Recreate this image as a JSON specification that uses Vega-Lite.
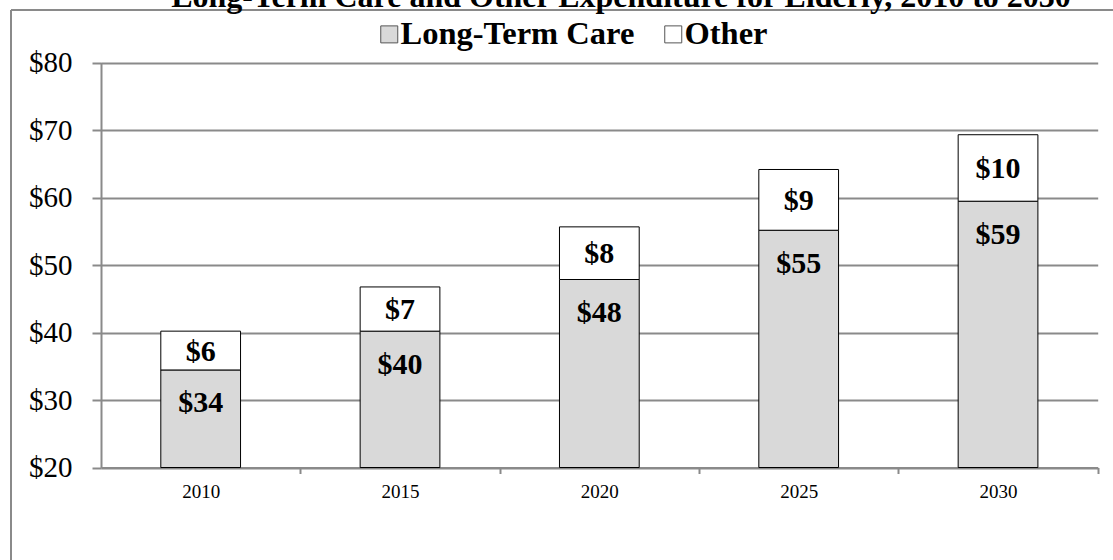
{
  "$schema": "https://vega.github.io/schema/vega-lite/v6.json",
  "autosize": {"type": "none"},
  "padding": {"left": 11, "top": 10, "right": 0, "bottom": 0},
  "width": 1102,
  "height": 550,
  "background": "white",
  "title": {
    "text": "Long-Term Care and Other Expenditure for Elderly, 2010 to 2030",
    "anchor": "middle",
    "frame": "group",
    "font": "Liberation Serif",
    "fontSize": 32,
    "fontWeight": "bold",
    "color": "black",
    "baseline": "alphabetic",
    "offset": 0,
    "dy": 29,
    "dx": 59
  },
  "data": {
    "values": [
      {"year": "2010", "series": "Long-Term Care", "value": 34.45},
      {"year": "2010", "series": "Other", "value": 5.75},
      {"year": "2015", "series": "Long-Term Care", "value": 40.2},
      {"year": "2015", "series": "Other", "value": 6.55},
      {"year": "2020", "series": "Long-Term Care", "value": 47.85},
      {"year": "2020", "series": "Other", "value": 7.8},
      {"year": "2025", "series": "Long-Term Care", "value": 55.15},
      {"year": "2025", "series": "Other", "value": 9.0},
      {"year": "2030", "series": "Long-Term Care", "value": 59.45},
      {"year": "2030", "series": "Other", "value": 9.85}
    ]
  },
  "transform": [
    {"stack": "value", "groupby": ["year"], "sort": [{"field": "series", "order": "ascending"}], "as": ["v0", "v1"]}
  ],
  "layer": [
    {
      "mark": {"type": "bar", "stroke": "black", "strokeWidth": 1},
      "encoding": {
        "x": {
          "field": "year", "type": "nominal", "title": null,
          "scale": {"range": [90, 1086.7], "paddingInner": 0.6, "paddingOuter": 0.3},
          "axis": {
            "orient": "bottom", "offset": -92.5, "grid": false,
            "labelAngle": 0, "labelFontSize": 19, "labelPadding": 9,
            "tickSize": 6, "tickOffset": 99.7, "labelOffset": -99.7
          }
        },
        "y": {
          "field": "v0", "type": "quantitative", "title": null,
          "scale": {"domain": [20, 80], "range": [457.5, 52.5], "clamp": true, "nice": false, "zero": false},
          "axis": {
            "orient": "left", "offset": -90, "grid": true,
            "values": [20, 30, 40, 50, 60, 70, 80], "format": "$.0f",
            "labelFontSize": 29, "tickSize": 9, "labelPadding": 20
          }
        },
        "y2": {"field": "v1"},
        "color": {
          "field": "series", "type": "nominal",
          "scale": {"domain": ["Long-Term Care", "Other"], "range": ["#d9d9d9", "#ffffff"]},
          "legend": {
            "orient": "none", "legendX": 362, "legendY": 8, "direction": "horizontal",
            "title": null, "padding": 0
          }
        }
      }
    },
    {
      "transform": [{"filter": {"field": "series", "equal": "Long-Term Care"}}],
      "mark": {"type": "text", "font": "Liberation Serif", "fontSize": 30, "fontWeight": "bold", "color": "black", "baseline": "alphabetic", "dy": 42.5},
      "encoding": {
        "x": {"field": "year", "type": "nominal", "title": null},
        "y": {"field": "v1", "type": "quantitative", "title": null},
        "text": {"field": "value", "type": "quantitative", "format": "$.0f"}
      }
    },
    {
      "transform": [
        {"filter": {"field": "series", "equal": "Other"}},
        {"fold": ["v0", "v1"], "as": ["edge", "pos"]},
        {"aggregate": [{"op": "mean", "field": "pos", "as": "mid"}, {"op": "max", "field": "value", "as": "value"}], "groupby": ["year"]}
      ],
      "mark": {"type": "text", "font": "Liberation Serif", "fontSize": 30, "fontWeight": "bold", "color": "black", "baseline": "middle", "dy": 1},
      "encoding": {
        "x": {"field": "year", "type": "nominal", "title": null},
        "y": {"field": "mid", "type": "quantitative", "title": null},
        "text": {"field": "value", "type": "quantitative", "format": "$.0f"}
      }
    }
  ],
  "config": {
    "font": "Liberation Serif",
    "view": {"stroke": "#8a8a8a", "strokeWidth": 2, "strokeDash": [1102, 1652, 550, 0]},
    "axis": {
      "labelFont": "Liberation Serif", "labelColor": "black",
      "domainColor": "#8a8a8a", "domainWidth": 2,
      "tickColor": "#8a8a8a", "tickWidth": 2,
      "gridColor": "#8a8a8a", "gridWidth": 2, "gridOpacity": 1
    },
    "legend": {
      "labelFont": "Liberation Serif", "labelFontSize": 32.5, "labelFontWeight": "bold", "labelColor": "black",
      "symbolType": "square", "symbolSize": 289, "symbolStrokeColor": "#555555", "symbolStrokeWidth": 1,
      "labelOffset": -5, "columnPadding": 22, "labelLimit": 400
    }
  }
}
